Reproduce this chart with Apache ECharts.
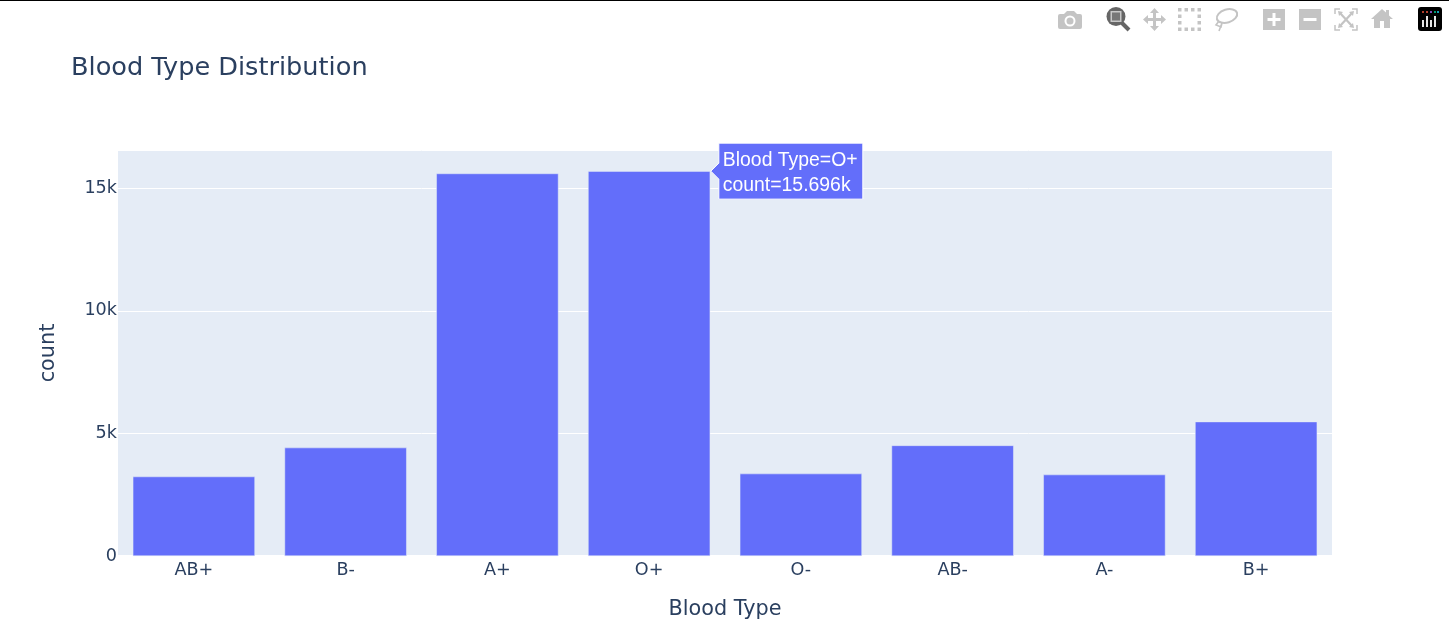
<!DOCTYPE html>
<html><head><meta charset="utf-8">
<style>html,body{margin:0;padding:0;background:#fff}#c{width:1449px;height:637px}</style>
<script src="https://cdn.jsdelivr.net/npm/echarts@6/dist/echarts.min.js"></script>
</head><body><div id="c"></div>
<script>
const categories = ['AB+','B-','A+','O+','O-','AB-','A-','B+'];
const counts = [3240,4420,15600,15696,3360,4510,3320,5480];
const yTicks = {0:'0',5000:'5k',10000:'10k',15000:'15k'};
const titleText = 'Blood Type Distribution';
const xName = 'Blood Type', yName = 'count';
const tipLines = ['Blood Type=O+','count=15.696k'];

const FONT = '"DejaVu Sans", Verdana, sans-serif', INK = '#2a3f5f', BAR = '#636efa', G = '#c4c4c4';
const chart = echarts.init(document.getElementById('c'), null, {renderer:'canvas'});
chart.setOption({
  animation:false,
  backgroundColor:'#fff',
  title:{text:titleText,left:66,top:50,textStyle:{fontFamily:FONT,fontSize:25.6,fontWeight:'normal',color:INK}},
  grid:{left:118,right:117,top:150,height:406,containLabel:false,backgroundColor:'#e5ecf6',show:true,borderWidth:0},
  xAxis:{type:'category',data:categories,name:xName,nameLocation:'middle',nameGap:43,
    nameTextStyle:{fontFamily:FONT,fontSize:20.8,color:INK},
    axisLine:{show:true,lineStyle:{color:'#fff',width:2}},axisTick:{show:false},
    axisLabel:{fontFamily:FONT,fontSize:17.6,color:INK,margin:5},splitLine:{show:false}},
  yAxis:{type:'value',min:0,max:16558,interval:5000,name:yName,nameLocation:'middle',nameGap:59,
    nameTextStyle:{fontFamily:FONT,fontSize:20.8,color:INK},
    axisLine:{show:false},axisTick:{show:false},
    axisLabel:{fontFamily:FONT,fontSize:17.6,color:INK,margin:1,showMaxLabel:false,formatter:v=>yTicks[v]||''},
    splitLine:{show:true,lineStyle:{color:'#fff',width:1}}},
  series:[{type:'bar',data:counts,barWidth:'80.5%',
    itemStyle:{color:BAR,borderColor:'#e5ecf6',borderWidth:0.5},z:3}]
});

// hover label, anchored to the O+ bar through the chart's own scale
const idx = categories.indexOf('O+');
const [cx, barTop] = chart.convertToPixel({xAxisIndex:0,yAxisIndex:0},[idx,counts[idx]]);
const bw = chart.convertToPixel({xAxisIndex:0},1)-chart.convertToPixel({xAxisIndex:0},0);
const ax = cx + bw*0.4 + 1, ay = barTop;
const L = ax+8, R = L+144, T = ay-28, B = ay+28;

const Z = {z:50,silent:true};
const rect = (x,y,w,h,fill,r)=>({type:'rect',shape:{x,y,width:w,height:h,r:r||0},style:{fill:fill||G},...Z});
const circ = (x,y,r,fill)=>({type:'circle',shape:{cx:x,cy:y,r},style:{fill:fill||G},...Z});
const poly = (pts,fill)=>({type:'polygon',shape:{points:pts},style:{fill:fill||G},...Z});
const seg = (pts,w,col)=>({type:'polyline',shape:{points:pts},style:{fill:'none',stroke:col||G,lineWidth:w||1.5},...Z});
const shift = (x,y,pts)=>pts.map(p=>[p[0]+x,p[1]+y]);
const dots = [];
[[0,0],[6.5,0],[13,0],[19.5,0],[0,6.5],[19.5,6.5],[0,13],[19.5,13],[0,19.5],[6.5,19.5],[13,19.5],[19.5,19.5]]
  .forEach(p=>dots.push(rect(1178+p[0],8+p[1],3.5,3.5)));
const tb = [
 rect(0,0,1449,1,'#000'),
 // camera
 rect(1058,14,24,15,G,2), poly([[1064,14],[1067,11],[1074,11],[1077,14]]), circ(1070,21,5.5,'#fff'), circ(1070,21,3.5),
 // zoom (active)
 seg([[1122,23],[1129,30]],4,'#666'), circ(1116,16.5,9.5,'#666'), rect(1110.5,11,11,11,'#c8c8c8'), rect(1112,12.5,8,8,'#777'),
 // pan
 poly(shift(1143,8,[[11.5,0],[16,5],[13,5],[13,10],[18,10],[18,7],[23,11.5],[18,16],[18,13],[13,13],[13,18],[16,18],[11.5,23],[7,18],[10,18],[10,13],[5,13],[5,16],[0,11.5],[5,7],[5,10],[10,10],[10,5],[7,5]])),
 // box select
 ...dots,
 // lasso
 {type:'ellipse',shape:{cx:1227,cy:16,rx:10.5,ry:6.5},rotation:0.3,originX:1227,originY:16,style:{fill:'none',stroke:G,lineWidth:2},...Z},
 seg([[1219,21],[1216,25],[1221,27],[1222,23],[1219,31]],1.6),
 // zoom in / out
 rect(1263,9,22,21), rect(1272.5,13,3,13,'#fff'), rect(1267.5,18,13,3,'#fff'),
 rect(1299,9,22,21), rect(1303.5,18,13,3,'#fff'),
 // autoscale
 seg([[1335,14],[1335,9],[1340,9]]), seg([[1352,9],[1357,9],[1357,14]]), seg([[1335,25],[1335,30],[1340,30]]), seg([[1352,30],[1357,30],[1357,25]]),
 seg([[1340,13],[1352,26]],2.2), seg([[1352,13],[1340,26]],2.2),
 poly([[1338,11],[1343,12],[1339,16]]), poly([[1354,11],[1349,12],[1353,16]]), poly([[1338,28],[1343,27],[1339,23]]), poly([[1354,28],[1349,27],[1353,23]]),
 // home
 poly(shift(1371,9,[[11,0],[15,3.5],[15,1],[18,1],[18,6.5],[22,10],[19,10],[19,19],[13,19],[13,12],[9,12],[9,19],[3,19],[3,10],[0,10]])),
 // logo
 rect(1418,7,24,24,'#000',3),
 ...[[1423,'#ef553b'],[1427,'#ef553b'],[1431,'#ab63fa'],[1435,'#00cc96'],[1438,'#19d3f3']].map(p=>circ(p[0],12,1,p[1])),
 ...[[1423,20],[1427,16],[1431,20],[1435,16]].map(p=>rect(p[0]-0.9,p[1],1.8,27-p[1],'#fff')),
];
chart.setOption({graphic:{elements:[
 ...tb,
 {type:'polygon',shape:{points:[[ax,ay],[L,ay-8],[L,T],[R,T],[R,B],[L,B],[L,ay+8]]},
  style:{fill:BAR,stroke:'#fff',lineWidth:1},z:60,silent:true},
 {type:'text',x:L+4,y:ay-10,style:{text:tipLines[0],fill:'#fff',font:'19.4px "Liberation Sans", Arial, sans-serif',verticalAlign:'middle'},z:61,silent:true},
 {type:'text',x:L+4,y:ay+15,style:{text:tipLines[1],fill:'#fff',font:'19.4px "Liberation Sans", Arial, sans-serif',verticalAlign:'middle'},z:61,silent:true}
]}});
</script></body></html>
